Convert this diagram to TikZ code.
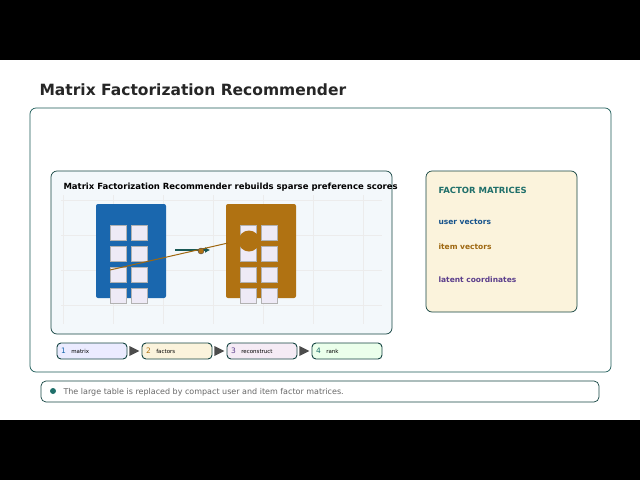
\documentclass[tikz,border=0pt]{standalone}
\usepackage{fontspec}
\setmainfont{DejaVu Sans}
\usetikzlibrary{calc,arrows.meta}
\begin{document}
\begin{tikzpicture}[x=1pt,y=-1pt,
 frame/.style={draw=teal!60!black,rounded corners=6pt,line width=0.7pt},
 win/.style={fill=winc,draw=gray!60,line width=0.3pt},
 stepbox/.style={draw=teal!60!black,rounded corners=4pt,line width=0.9pt,minimum width=70pt,minimum height=16pt,font=\fontsize{5.5}{6}\selectfont,text width=62pt,align=left}]
\definecolor{teal}{HTML}{1F6F6A}
\definecolor{winc}{HTML}{EEEAF6}
\definecolor{bblue}{HTML}{1A67AE}
\definecolor{bbrown}{HTML}{B07212}
\definecolor{cream}{HTML}{FBF3DC}
\definecolor{pbg}{HTML}{F3F8FB}
\definecolor{purp}{HTML}{5B3E8C}
\useasboundingbox (0,0) rectangle (640,480);
\fill[black] (0,0) rectangle (640,60);
\fill[black] (0,420) rectangle (640,480);
\node[anchor=west,font=\bfseries\fontsize{15.5}{18}\selectfont,text=black!85] (title) at (36,90) {Matrix Factorization Recommender};
\draw[frame,draw=teal!80!black] (30,108) rectangle (611,372);
\draw[frame,fill=pbg] (51,171) rectangle (392,334);
\foreach \x in {63,113,163,213,263,313,363} \draw[gray!15,line width=0.3pt] (\x,195) -- (\x,324);
\foreach \y in {200,235,270,305} \draw[gray!15,line width=0.3pt] (61,\y) -- (382,\y);
\node[anchor=west,font=\bfseries\fontsize{8.5}{10}\selectfont] (ptitle) at (60,187) {Matrix Factorization Recommender rebuilds sparse preference scores};
\fill[bblue,rounded corners=2pt] (96,204) rectangle (166,298);
\fill[bbrown,rounded corners=2pt] (226,204) rectangle (296,298);
\foreach \bx in {110,240}{
 \foreach \y in {225,246,267,288}{
  \draw[win] (\bx,\y) rectangle ++(16,15);
  \draw[win] (\bx+21,\y) rectangle ++(16,15);}}
\coordinate (ga) at (175,250); \coordinate (gb) at (210,250);
\draw[teal!80!black,line width=1.4pt,-{Latex[length=5pt,width=6pt]}] (ga) -- (gb);
\coordinate (la) at (110,270); \coordinate (lb) at (228,243);
\draw[bbrown!90!black,line width=1pt] (la) -- (lb);
\node[circle,fill=bbrown,draw=black!70,line width=0.4pt,inner sep=0pt,minimum size=6pt] (dot) at (201,251) {};
\node[circle,fill=bbrown,inner sep=0pt,minimum size=21pt] (big) at (249,241) {};
\node[stepbox,fill=blue!8] (s1) at (92,351) {\textcolor{bblue}{\fontsize{7.5}{8}\selectfont 1}\quad matrix};
\node[stepbox,fill=cream] (s2) at (177,351) {\textcolor{bbrown}{\fontsize{7.5}{8}\selectfont 2}\quad factors};
\node[stepbox,fill=violet!8] (s3) at (262,351) {\textcolor{purp}{\fontsize{7.5}{8}\selectfont 3}\quad reconstruct};
\node[stepbox,fill=green!8] (s4) at (347,351) {\textcolor{teal}{\fontsize{7.5}{8}\selectfont 4}\quad rank};
\foreach \a/\b in {s1/s2,s2/s3,s3/s4}
 \fill[gray!60!black] ($(\a.east)+(2,-5)$) -- ($(\a.east)+(12,0)$) -- ($(\a.east)+(2,5)$) -- cycle;
\draw[frame,fill=cream] (426,171) rectangle (577,312);
\node[anchor=west,font=\bfseries\fontsize{8.5}{10}\selectfont,text=teal] (fm) at (435,190) {FACTOR MATRICES};
\node[anchor=west,font=\bfseries\fontsize{7.5}{9}\selectfont,text=bblue!80!black] (uv) at (435,222) {user vectors};
\node[anchor=west,font=\bfseries\fontsize{7.5}{9}\selectfont,text=bbrown!90!black] (iv) at (435,247) {item vectors};
\node[anchor=west,font=\bfseries\fontsize{7.5}{9}\selectfont,text=purp] (lc) at (435,280) {latent coordinates};
\draw[frame,rounded corners=5pt] (41,381) rectangle (599,402);
\node[circle,fill=teal,inner sep=0pt,minimum size=6pt] (fd) at (53,391) {};
\node[anchor=west,font=\fontsize{8}{9}\selectfont,text=gray!80!black] (ft) at (60,392) {The large table is replaced by compact user and item factor matrices.};
\end{tikzpicture}
\end{document}
